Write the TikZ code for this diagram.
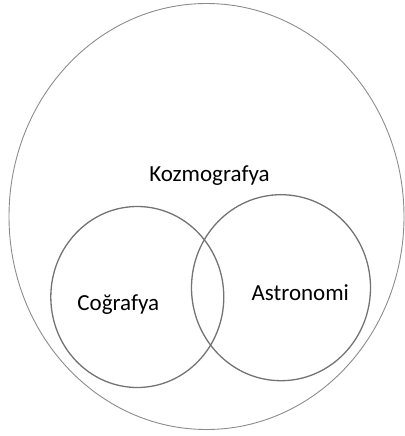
\documentclass[tikz,border=0pt]{standalone}
\usepackage{fontspec}
\setmainfont{Carlito}
\usetikzlibrary{shapes.geometric}
\begin{document}
\begin{tikzpicture}[x=1pt,y=-1pt,
  outer/.style={draw=black!45,line width=0.9pt,ellipse,inner sep=0pt},
  inner/.style={draw=black!55,line width=1.3pt,ellipse,inner sep=0pt},
  lbl/.style={font=\fontsize{23}{26}\selectfont,anchor=base,inner sep=0pt}]
\useasboundingbox (0,0) rectangle (404,436);
\node[outer,minimum width=395pt,minimum height=426pt] (koz) at (206.5,216.5) {};
\node[inner,minimum width=173pt,minimum height=181pt] (cog) at (137.3,297) {};
\node[inner,minimum width=179pt,minimum height=186pt] (ast) at (281,287.7) {};
\node[lbl] (tkoz) at (209.5,181) {Kozmografya};
\node[lbl] (tcog) at (118.3,310) {Coğrafya};
\node[lbl] (tast) at (300.3,300.7) {Astronomi};
\end{tikzpicture}
\end{document}
